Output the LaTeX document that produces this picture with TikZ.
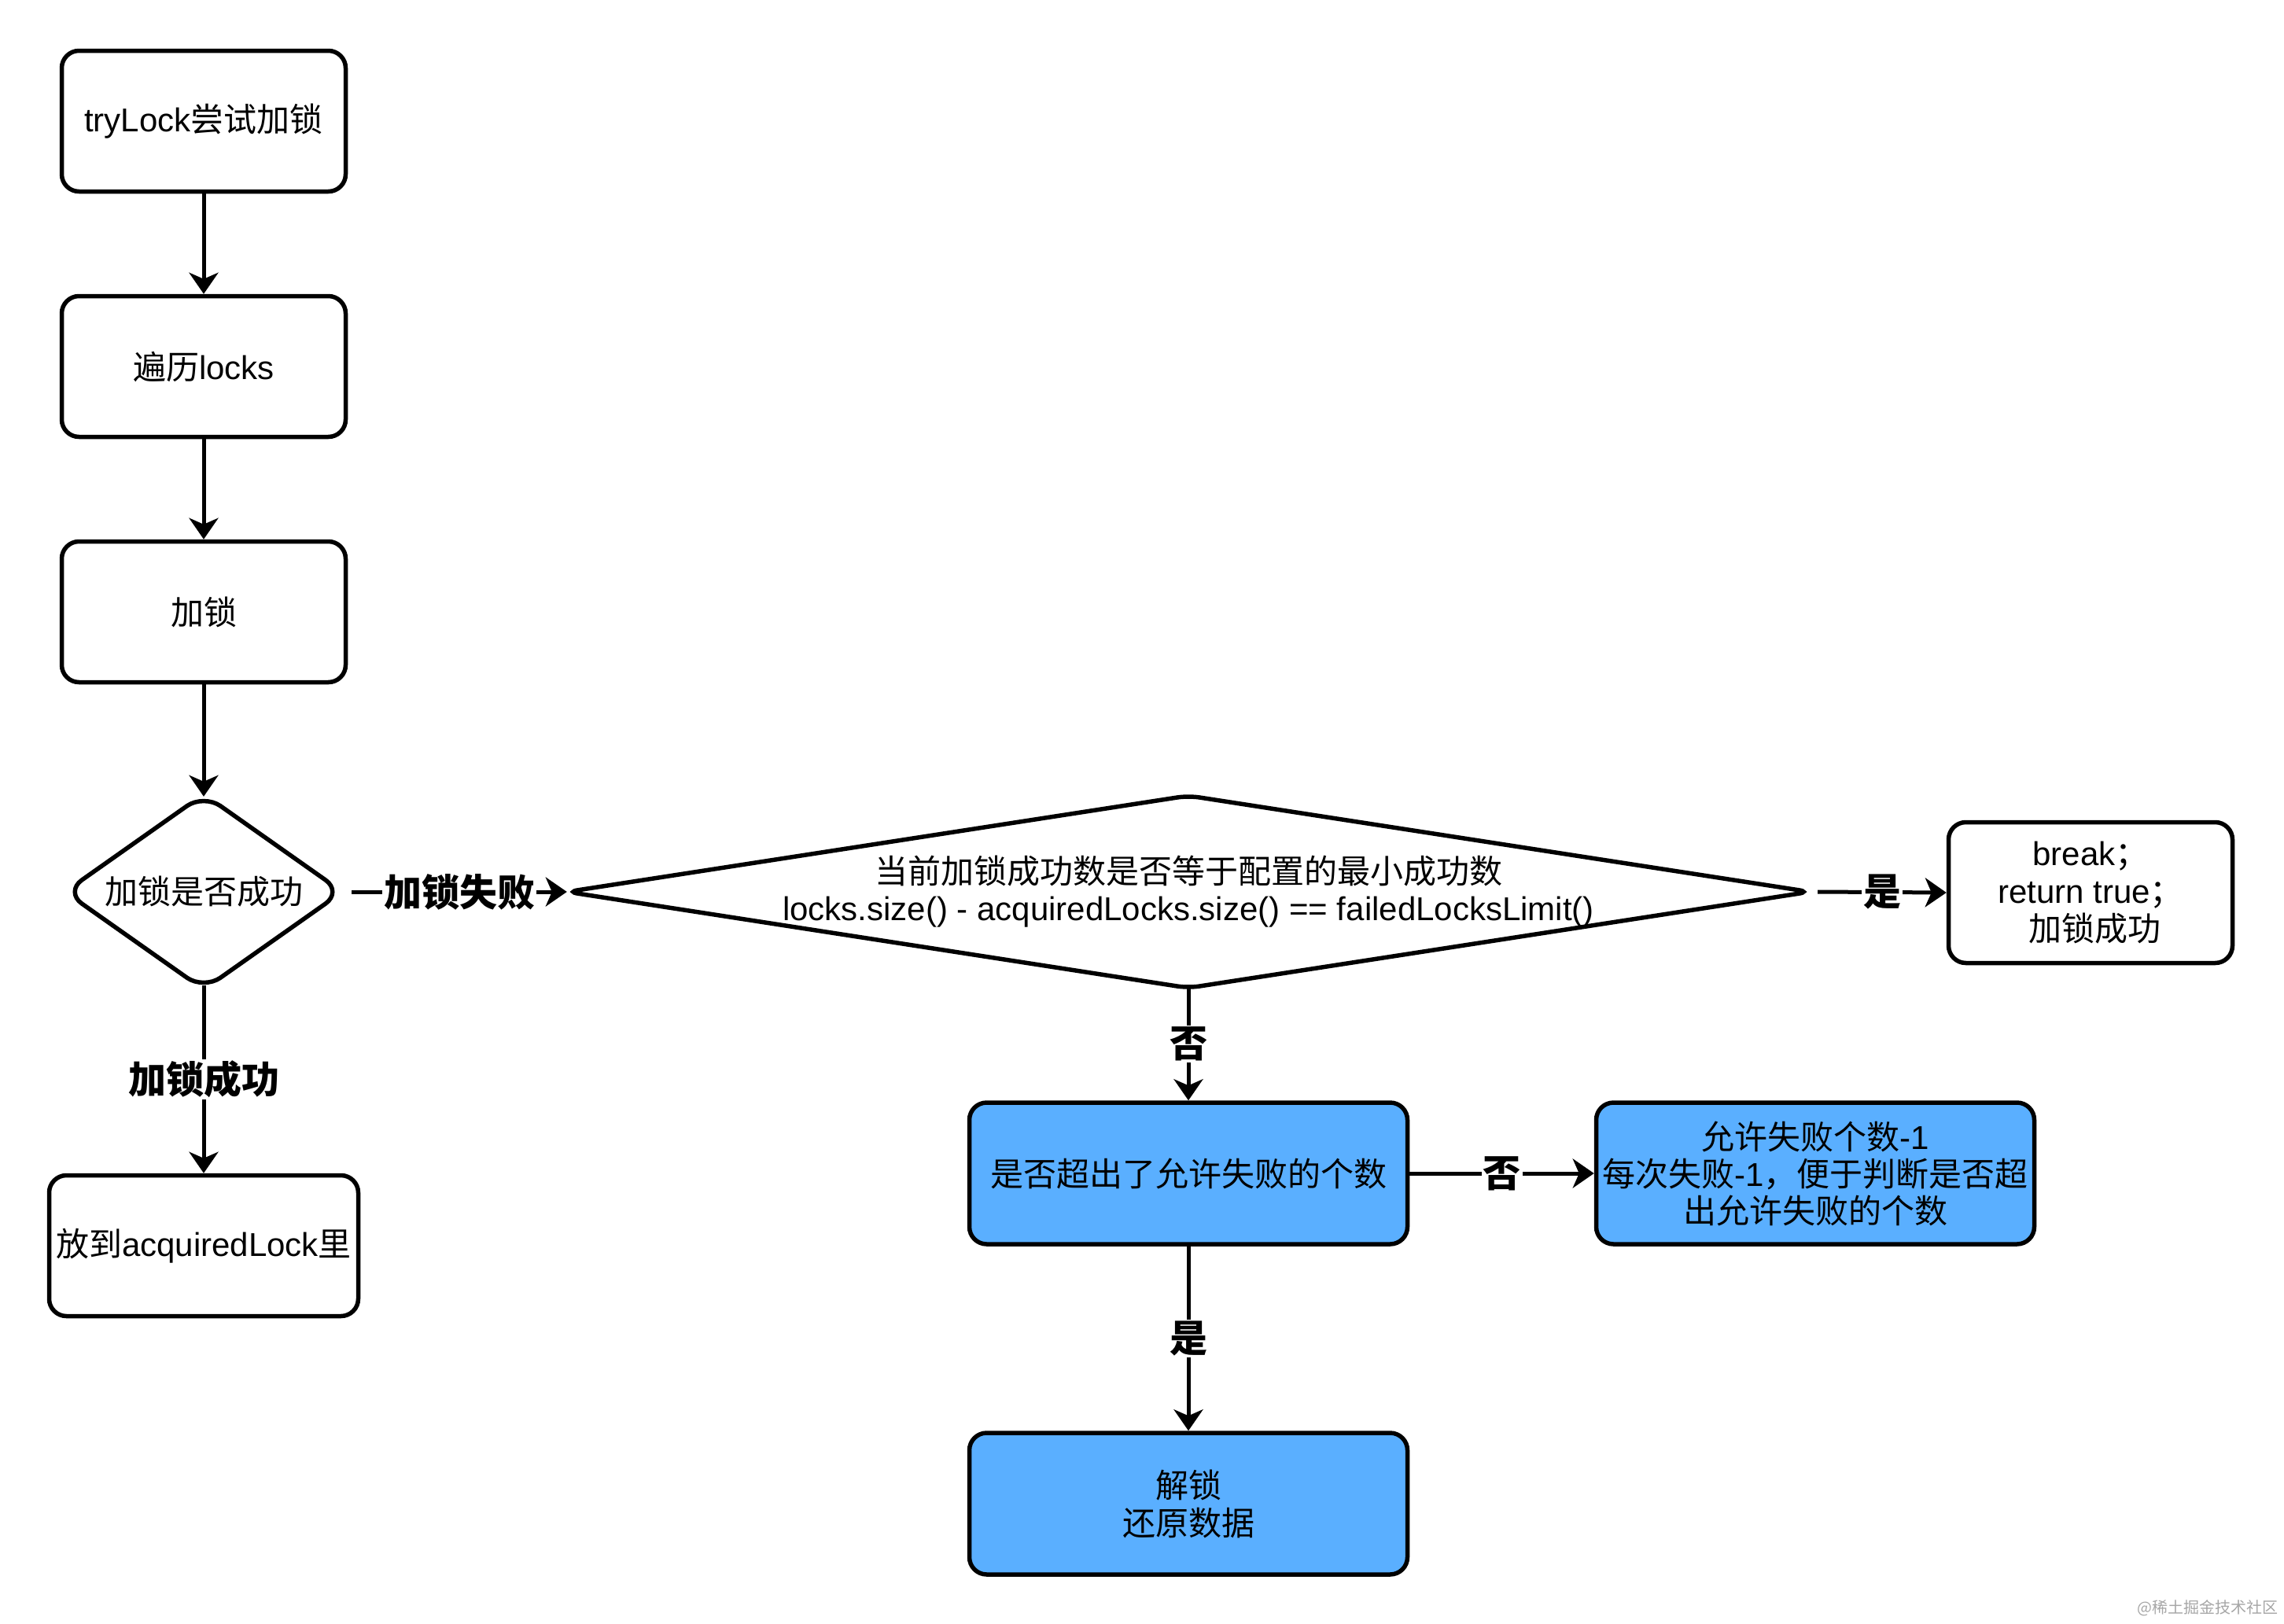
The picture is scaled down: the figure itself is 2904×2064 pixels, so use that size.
\documentclass[tikz,border=0pt]{standalone}
\usepackage{fontspec}
\setmainfont{Liberation Sans}
\newfontfamily\cjk{Noto Sans CJK SC}
\usetikzlibrary{arrows.meta}
\definecolor{boxblue}{HTML}{5AAFFF}
\begin{document}
\begin{tikzpicture}[x=1pt,y=-1pt,
  every node/.style={font=\fontsize{42}{48}\selectfont},
  box/.style={draw, line width=5.5pt, rounded corners=22pt, minimum width=361pt, minimum height=179pt, align=center, inner sep=0pt},
  bluebox/.style={box, fill=boxblue, minimum width=557pt, minimum height=180pt},
  shapeonly/.style={inner sep=0pt, align=center},
  arr/.style={line width=5pt, -{Stealth[length=27pt,width=37pt,inset=8pt]}},
  elabel/.style={fill=white, inner sep=2pt, font=\fontsize{48}{52}\selectfont\cjk\bfseries},
]
\useasboundingbox (0,0) rectangle (2904,2064);

% left column
\node[box] (try) at (259,154) {try\kern0ptLock{\cjk 尝试加锁}};
\node[box] (iter) at (259,466) {{\cjk 遍历}locks};
\node[box] (lock) at (259,778) {\cjk 加锁};
\node[shapeonly, minimum width=352pt, minimum height=248pt] (dia) at (259,1134) {\cjk 加锁是否成功};
\draw[line width=5.5pt, rounded corners=26pt] (dia.west) -- (dia.north) -- (dia.east) -- (dia.south) -- cycle;
\node[box, minimum width=393pt] (put) at (259,1584) {{\cjk 放到}acquiredLock{\cjk 里}};

% big diamond
\node[shapeonly, minimum width=1580pt, minimum height=244pt] (big) at (1511,1134)
  {{\cjk 当前加锁成功数是否等于配置的最小成功数}\\[-1pt]locks.size() - acquiredLocks.size() == failedLocksLimit()};
\draw[line width=5.5pt, rounded corners=14pt] (big.west) -- (big.north) -- (big.east) -- (big.south) -- cycle;

\node[box] (brk) at (2658,1135) {break{\cjk ；}\\[0pt]return true{\cjk ；}\\[0pt]\ {\cjk 加锁成功}};

% blue boxes
\node[bluebox] (over) at (1511,1492) {\cjk 是否超出了允许失败的个数};
\node[bluebox] (dec) at (2308,1492) {{\cjk 允许失败个数}-1\\[-1pt]{\cjk 每次失败}-1{\cjk ，便于判断是否超}\\[-1pt]{\cjk 出允许失败的个数}};
\node[bluebox] (unl) at (1511,1912) {{\cjk 解锁}\\[0pt]{\cjk 还原数据}};

% watermark
\node[anchor=east, text=black!35, font=\fontsize{20}{22}\selectfont\cjk, inner sep=0pt] (wm) at (2897,2045) {@稀土掘金技术社区};

% connectors
\draw[arr] (try.south) -- (iter.north);
\draw[arr] (iter.south) -- (lock.north);
\draw[arr] (lock.south) -- ([yshift=-3pt]dia.north);
\coordinate (diaR) at ([xshift=12pt]dia.east);
\draw[arr] (diaR) -- node[elabel] {加锁失败} (big.west);
\coordinate (diaB) at ([yshift=5pt]dia.south);
\draw[arr] (diaB) -- node[elabel] {加锁成功} (put.north);
\coordinate (bigR) at ([xshift=10pt]big.east);
\draw[arr] (bigR) -- node[elabel] {是} (brk.west);
\draw[arr] (big.south) -- node[elabel] {否} (over.north);
\draw[arr] (over.east) -- node[elabel] {否} (dec.west);
\draw[arr] (over.south) -- node[elabel] {是} (unl.north);
\end{tikzpicture}
\end{document}
